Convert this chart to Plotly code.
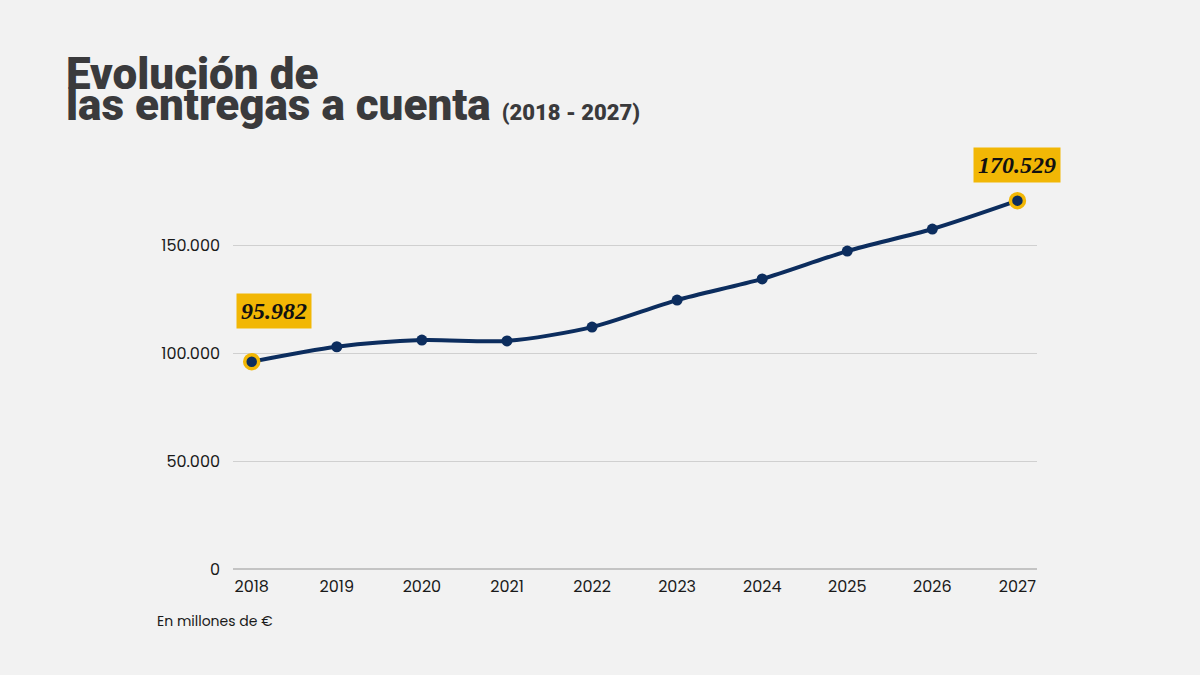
import plotly.graph_objects as go

years = [2018, 2019, 2020, 2021, 2022, 2023, 2024, 2025, 2026, 2027]
values = [95982, 102887, 106000, 105600, 112000, 124500, 134300, 147200, 157400, 170529]
y_ticks = [0, 50000, 100000, 150000]
y_tick_labels = ["0", "50.000", "100.000", "150.000"]

NAVY = "#0c2d5e"
GOLD = "#f2b705"
BG = "#f2f2f2"

def fmt(v):
    return f"{v:,}".replace(",", ".")

W, H = 1200, 675
ML, MR, MT, MB = 233, 163, 191, 106

fig = go.Figure()
fig.add_trace(go.Scatter(
    x=years, y=values, mode="lines+markers",
    line=dict(color=NAVY, width=4, shape="spline", smoothing=0.8),
    marker=dict(color=NAVY, size=11),
    hoverinfo="skip", showlegend=False,
))
hx = [years[0], years[-1]]
hy = [values[0], values[-1]]
fig.add_trace(go.Scatter(
    x=hx, y=hy, mode="markers",
    marker=dict(color=NAVY, size=14, line=dict(color=GOLD, width=3.5)),
    hoverinfo="skip", showlegend=False,
))

for x, y, dx, dy in [(hx[0], hy[0], 22, 51), (hx[1], hy[1], 0, 36)]:
    fig.add_annotation(
        x=x, y=y, xref="x", yref="y", text=fmt(y),
        showarrow=False, xshift=dx, yshift=dy,
        bgcolor=GOLD, borderpad=4,
        font=dict(family="Liberation Serif", size=24, color="#111111", weight="bold", style="italic"),
    )

fig.update_layout(
    width=W, height=H,
    paper_bgcolor=BG, plot_bgcolor=BG,
    margin=dict(l=ML, r=MR, t=MT, b=MB),
    xaxis=dict(
        range=[2017.78, 2027.23], tickmode="array", tickvals=years,
        ticktext=[str(y) for y in years], showgrid=False, zeroline=False,
        showline=False, ticks="", ticklabelstandoff=6,
        tickfont=dict(family="Poppins, Lato, sans-serif", size=16, color="#1a1a1a"),
        fixedrange=True,
    ),
    yaxis=dict(
        range=[0, 175000], tickmode="array", tickvals=y_ticks, ticktext=y_tick_labels,
        showgrid=True, gridcolor="#d0d0d0", gridwidth=1, zeroline=True,
        zerolinecolor="#c4c4c4", zerolinewidth=1.5, showline=False, ticks="",
        ticklabelstandoff=12,
        tickfont=dict(family="Poppins, Lato, sans-serif", size=16, color="#1a1a1a"),
        fixedrange=True,
    ),
)

pw, ph = W - ML - MR, H - MT - MB
def px(xp):
    return (xp - ML) / pw
def py(yp):
    return (H - MB - yp) / ph

fig.add_annotation(
    x=px(64), y=py(102), xref="paper", yref="paper", text="Evolución de",
    showarrow=False, xanchor="left", yanchor="bottom",
    font=dict(family="Roboto", size=44, color="#3a3a3c", weight=900),
)
fig.add_annotation(
    x=px(64), y=py(133), xref="paper", yref="paper",
    text="las entregas a cuenta <span style='font-size:22px'>(2018 - 2027)</span>",
    showarrow=False, xanchor="left", yanchor="bottom",
    font=dict(family="Roboto", size=44, color="#3a3a3c", weight=900),
)
fig.add_annotation(
    x=px(155), y=py(621), xref="paper", yref="paper", text="En millones de €",
    showarrow=False, xanchor="left", yanchor="middle",
    font=dict(family="Poppins, Lato, sans-serif", size=14, color="#1a1a1a"),
)
fig.write_html("out.html")
